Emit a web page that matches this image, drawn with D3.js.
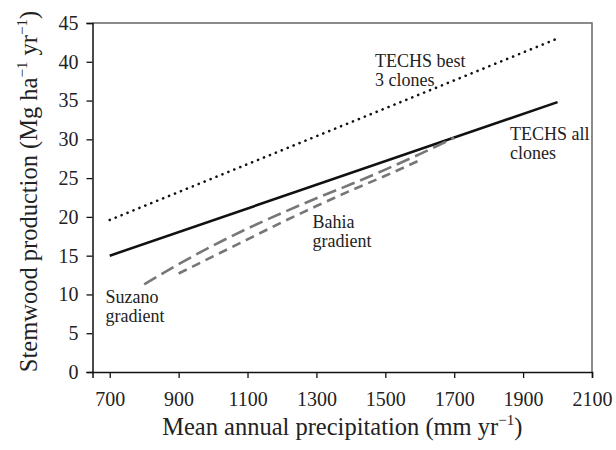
<!DOCTYPE html>
<html>
<head>
<meta charset="utf-8">
<script src="https://cdn.jsdelivr.net/npm/d3@7"></script>
<style>
  body { margin: 0; background: #fff; }
  text { font-family: "Liberation Serif", "Times New Roman", serif; fill: #222; }
</style>
</head>
<body>
<svg id="chart" width="616" height="450"></svg>
<script>
// values
var xTicks = [700, 900, 1100, 1300, 1500, 1700, 1900, 2100];
var yTicks = [0, 5, 10, 15, 20, 25, 30, 35, 40, 45];

var techsBest = [[700, 19.6], [2000, 43.0]];
var techsAll = [[700, 15.0], [2000, 34.8]];
var suzano = [[800, 11.3], [900, 13.9], [1000, 16.3], [1100, 18.5], [1200, 20.5],
              [1300, 22.4], [1400, 24.2], [1500, 26.1], [1600, 28.1], [1700, 30.2]];
var bahia = [[900, 12.7], [1000, 14.9], [1100, 17.1], [1200, 19.3], [1300, 21.4],
             [1400, 23.4], [1500, 25.3], [1600, 27.3]];

var margin = {left: 92.5, right: 24, top: 23, bottom: 78};
var svg = d3.select('#chart');
var W = 616, H = 450;

var x = d3.scaleLinear().domain([650, 2100]).range([margin.left, W - margin.right]);
var y = d3.scaleLinear().domain([0, 45]).range([H - margin.bottom, margin.top]);

// frame top / right
svg.append('path')
    .attr('d', 'M' + x(650) + ',' + y(45) + 'H' + x(2100) + 'V' + y(0))
    .attr('fill', 'none')
    .attr('stroke', '#666')
    .attr('stroke-width', 1.5);

var xAxis = svg.append('g')
    .attr('transform', 'translate(0,' + y(0) + ')')
    .call(d3.axisBottom(x).tickValues(xTicks).tickFormat(d3.format('d'))
        .tickSizeOuter(0).tickSize(6).tickPadding(14));
var yAxis = svg.append('g')
    .attr('transform', 'translate(' + x(650) + ',0)')
    .call(d3.axisLeft(y).tickValues(yTicks).tickSizeOuter(0).tickSize(6).tickPadding(8));

[xAxis, yAxis].forEach(function(g) {
    g.select('.domain').attr('stroke', '#111').attr('stroke-width', 1.5);
    g.selectAll('.tick line').attr('stroke', '#111').attr('stroke-width', 1.3);
    g.selectAll('.tick text')
        .style('font-family', '"Liberation Serif", serif')
        .style('font-size', '20px')
        .attr('fill', '#222');
});

var line = d3.line()
    .x(function(d) { return x(d[0]); })
    .y(function(d) { return y(d[1]); })
    .curve(d3.curveMonotoneX);

var series = [
    {data: techsBest, color: '#111', width: 2.6, dash: '0.1,6.3', cap: 'round'},
    {data: techsAll, color: '#111', width: 2.6, dash: null, cap: 'butt'},
    {data: suzano, color: '#777', width: 2.6, dash: '14,6', cap: 'butt'},
    {data: bahia, color: '#777', width: 2.6, dash: '9,6', cap: 'butt'}
];

svg.selectAll('path.series')
    .data(series)
    .enter()
    .append('path')
    .attr('class', 'series')
    .attr('d', function(d) { return line(d.data); })
    .attr('fill', 'none')
    .attr('stroke', function(d) { return d.color; })
    .attr('stroke-width', function(d) { return d.width; })
    .attr('stroke-linecap', function(d) { return d.cap; })
    .attr('stroke-dasharray', function(d) { return d.dash; });

// line labels
var labels = [
    {lines: ['TECHS best', '3 clones'], x: 375, y: 66.5},
    {lines: ['TECHS all', 'clones'], x: 510, y: 140},
    {lines: ['Bahia', 'gradient'], x: 312.5, y: 228},
    {lines: ['Suzano', 'gradient'], x: 105.5, y: 303}
];

labels.forEach(function(l) {
    var t = svg.append('text')
        .attr('x', l.x)
        .attr('y', l.y)
        .style('font-size', '18px');
    l.lines.forEach(function(s, i) {
        t.append('tspan')
            .attr('x', l.x)
            .attr('dy', i === 0 ? 0 : 19)
            .text(s);
    });
});

// axis titles
var xt = svg.append('text')
    .attr('x', (x(650) + x(2100)) / 2)
    .attr('y', 435)
    .attr('text-anchor', 'middle')
    .style('font-size', '24.5px');
xt.append('tspan').text('Mean annual precipitation (mm yr');
xt.append('tspan').attr('dy', -10).style('font-size', '15px').text('\u22121');
xt.append('tspan').attr('dy', 10).text(')');

var yt = svg.append('text')
    .attr('transform', 'translate(37,' + ((y(0) + y(45)) / 2 - 6) + ') rotate(-90)')
    .attr('text-anchor', 'middle')
    .style('font-size', '24.5px');
yt.append('tspan').text('Stemwood production (Mg ha');
yt.append('tspan').attr('dy', -10).style('font-size', '15px').text('\u22121');
yt.append('tspan').attr('dy', 10).text(' yr');
yt.append('tspan').attr('dy', -10).style('font-size', '15px').text('\u22121');
yt.append('tspan').attr('dy', 10).text(')');
</script>
</body>
</html>
